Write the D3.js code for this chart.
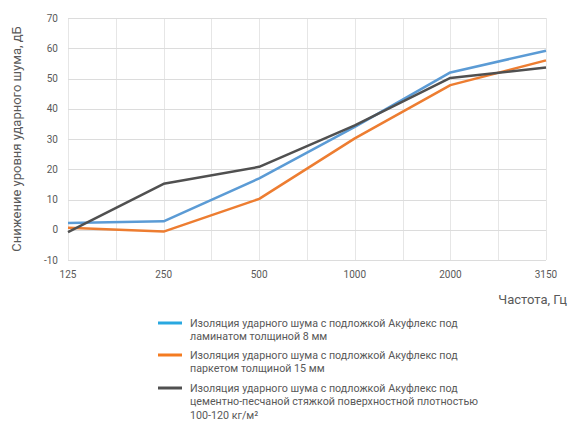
<!DOCTYPE html>
<html lang="ru">
<head>
<meta charset="UTF-8">
<title>Изоляция ударного шума</title>
<script src="https://d3js.org/d3.v7.min.js"></script>
<style>
  body { margin: 0; background: #fff; }
  text { font-family: Roboto, "Noto Sans", sans-serif; fill: #595959; }
  .grid line { stroke: #e6e6e6; stroke-width: 1px; }
  .grid .h { stroke: #dcdcdc; }
  .series { fill: none; stroke-width: 2.5px; stroke-linejoin: round; }
</style>
</head>
<body>
<div id="chart"></div>
<script>
  // data
  const freqs = ["125", "250", "500", "1000", "2000", "3150"];
  const laminate = [2.2, 2.8, 17, 34, 52, 59.2];
  const parquet = [0.7, -0.6, 10.2, 30.2, 47.8, 56];
  const screed = [-0.8, 15.2, 20.8, 34.5, 50.2, 53.6];
  const yTicks = [-10, 0, 10, 20, 30, 40, 50, 60, 70];

  const seriesList = [
    { name: ["Изоляция ударного шума с подложкой Акуфлекс под", "ламинатом толщиной 8 мм"], values: laminate, color: "#5b9bd5", key: "#29a8e0" },
    { name: ["Изоляция ударного шума с подложкой Акуфлекс под", "паркетом толщиной 15 мм"], values: parquet, color: "#ed7d31", key: "#f47b20" },
    { name: ["Изоляция ударного шума с подложкой Акуфлекс под", "цементно-песчаной стяжкой поверхностной плотностью", "100-120 кг/м²"], values: screed, color: "#505050", key: "#505050" }
  ];

  const width = 568, height = 421;
  const svg = d3.select("#chart").append("svg")
    .attr("width", width)
    .attr("height", height);

  const x = d3.scalePoint().domain(freqs).range([68, 546]);
  const y = d3.scaleLinear().domain([-10, 70]).range([260, 18]);

  // grid
  const grid = svg.append("g").attr("class", "grid");
  const step = x.step();
  const vx = [];
  freqs.forEach((f, i) => {
    vx.push(x(f));
    if (i < freqs.length - 1) vx.push(x(f) + step / 2);
  });
  grid.selectAll("line.v").data(vx).enter().append("line")
    .attr("class", "v")
    .attr("x1", d => Math.round(d) + 0.5).attr("x2", d => Math.round(d) + 0.5)
    .attr("y1", y(70)).attr("y2", y(-10));
  grid.selectAll("line.h").data(yTicks).enter().append("line")
    .attr("class", "h")
    .attr("x1", x.range()[0]).attr("x2", x.range()[1])
    .attr("y1", d => Math.round(y(d)) + 0.5).attr("y2", d => Math.round(y(d)) + 0.5);

  // axis labels
  svg.append("g").selectAll("text").data(yTicks).enter().append("text")
    .attr("x", 58).attr("y", d => y(d))
    .attr("dy", "0.35em")
    .attr("text-anchor", "end")
    .attr("font-size", 10)
    .text(d => d);

  svg.append("g").selectAll("text").data(freqs).enter().append("text")
    .attr("x", d => x(d)).attr("y", 278)
    .attr("text-anchor", "middle")
    .attr("font-size", 10)
    .text(d => d);

  svg.append("text")
    .attr("transform", `translate(21,${(y(70) + y(-10)) / 2}) rotate(-90)`)
    .attr("text-anchor", "middle")
    .attr("font-size", 13)
    .text("Снижение уровня ударного шума, дБ");

  svg.append("text")
    .attr("x", 567).attr("y", 304)
    .attr("text-anchor", "end")
    .attr("font-size", 13)
    .text("Частота, Гц");

  // lines
  const line = d3.line()
    .x((d, i) => x(freqs[i]))
    .y(d => y(d));

  svg.selectAll("path.series").data(seriesList).enter().append("path")
    .attr("class", "series")
    .attr("stroke", d => d.color)
    .attr("d", d => line(d.values));

  // legend
  const legendTops = [323, 355, 388];
  const legend = svg.append("g");
  seriesList.forEach((s, i) => {
    const top = legendTops[i];
    legend.append("line")
      .attr("x1", 158).attr("x2", 182)
      .attr("y1", top).attr("y2", top)
      .attr("stroke", s.key).attr("stroke-width", 3);
    s.name.forEach((t, j) => {
      legend.append("text")
        .attr("x", 190)
        .attr("y", top + j * 13 + (j === 2 ? 1 : 0))
        .attr("dy", "0.35em")
        .attr("font-size", 10.7)
        .text(t);
    });
  });
</script>
</body>
</html>
